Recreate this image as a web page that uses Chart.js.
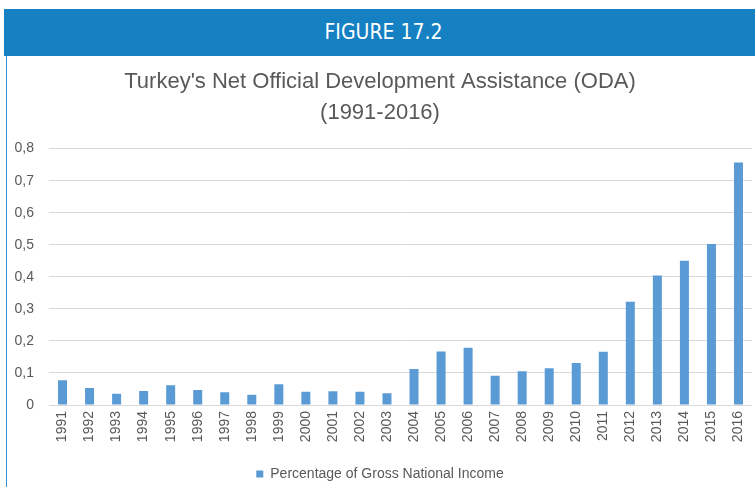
<!DOCTYPE html>
<html>
<head>
<meta charset="utf-8">
<script src="https://cdn.jsdelivr.net/npm/chart.js@4.4.0/dist/chart.umd.min.js"></script>
<style>
  html, body { margin: 0; padding: 0; background: #fff; }
  .page { position: relative; width: 755px; height: 487px; overflow: hidden; }
  .header {
    position: absolute; left: 4px; top: 9px; width: 743px; height: 47px; padding-left: 8px;
    background: #1580c2; color: #fff; text-align: center;
    font-family: 'Liberation Sans Narrow', 'DejaVu Sans Condensed', sans-serif;
    font-size: 21px; line-height: 47px;
  }
  .frame { position: absolute; left: 6px; top: 56px; width: 1px; height: 431px; background: #3a8fd0; }
  .box { position: absolute; left: 8px; top: 56px; width: 755px; height: 435px; }
</style>
</head>
<body>
<div class="page">
  <div class="header">FIGURE 17.2</div>
  <div class="frame"></div>
  <div class="box"><canvas id="odaChart"></canvas></div>
</div>
<script>
// Turkey ODA, share of GNI (%)
const years = ['1991', '1992', '1993', '1994', '1995', '1996', '1997', '1998', '1999', '2000', '2001', '2002', '2003',
  '2004', '2005', '2006', '2007', '2008', '2009', '2010', '2011', '2012', '2013', '2014', '2015', '2016'];
const odaShare = [0.077, 0.053, 0.035, 0.044, 0.062, 0.047, 0.040, 0.032, 0.065, 0.041, 0.043, 0.041, 0.037,
  0.112, 0.167, 0.179, 0.091, 0.105, 0.115, 0.131, 0.166, 0.322, 0.404, 0.450, 0.502, 0.757];
const yTickLabels = ['0', '0,1', '0,2', '0,3', '0,4', '0,5', '0,6', '0,7', '0,8'];

const gray = '#595959';
const font = 'Liberation Sans';

let ctx = document.getElementById('odaChart');

new Chart(ctx, {
  type: 'bar',
  data: {
    labels: years,
    datasets: [{
      label: 'Percentage of Gross National Income',
      data: odaShare,
      backgroundColor: '#5b9bd5',
      borderWidth: 0,
      barPercentage: 0.333,
      categoryPercentage: 1,
    }]
  },
  options: {
    responsive: true,
    maintainAspectRatio: false,
    animation: false,
    layout: {
      padding: { left: 0, right: 11, top: 0, bottom: 0 }
    },
    plugins: {
      title: {
        display: true,
        text: ["Turkey's Net Official Development Assistance (ODA)", '(1991-2016)'],
        color: gray,
        font: { family: font, size: 22, weight: 'normal', lineHeight: 1.4 },
        padding: { top: 11, bottom: 20 }
      },
      legend: {
        display: true,
        position: 'bottom',
        labels: {
          color: gray,
          font: { family: font, size: 14 },
          boxWidth: 7,
          boxHeight: 7,
          padding: 5
        }
      },
      tooltip: { enabled: false }
    },
    scales: {
      x: {
        grid: { display: false, drawTicks: false },
        border: { display: false },
        ticks: {
          color: gray,
          font: { family: font, size: 14 },
          minRotation: 90,
          maxRotation: 90,
          autoSkip: false,
          padding: 6
        },
        afterFit: s => { s.height = 57 }
      },
      y: {
        min: 0,
        max: 0.8,
        grid: { color: '#d9d9d9', drawTicks: false },
        border: { display: false },
        ticks: {
          stepSize: 0.1,
          color: gray,
          font: { family: font, size: 14 },
          padding: 15,
          callback: (v, i) => yTickLabels[i]
        },
        afterFit: s => { s.width = 41 }
      }
    }
  }
});
</script>
</body>
</html>
